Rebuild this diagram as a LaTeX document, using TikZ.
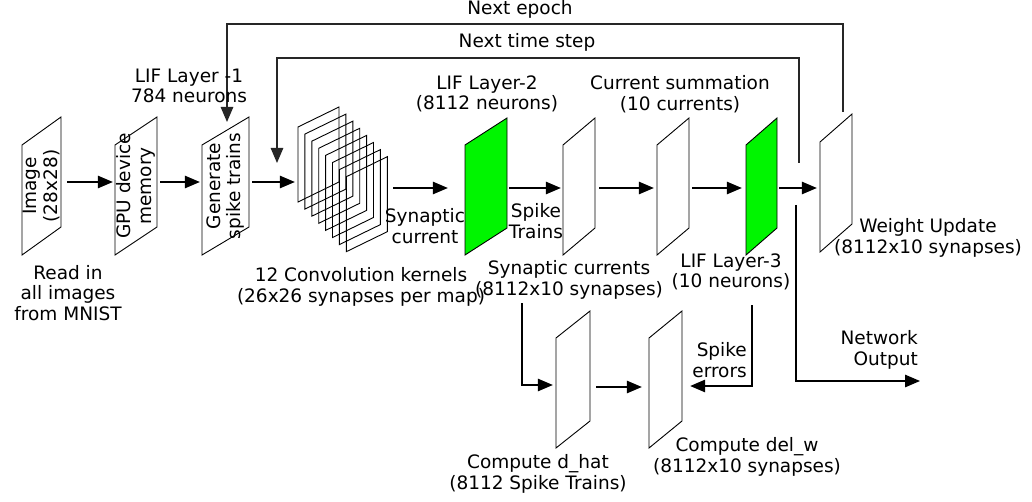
\documentclass[tikz,border=0pt]{standalone}
\usepackage{fontspec}
\setmainfont{DejaVu Sans}
\usetikzlibrary{arrows.meta,calc}

\definecolor{lifgreen}{RGB}{0,245,0}

% parallelogram slanted upwards to the right, plus an invisible named node over its extent
% #1 name, #2 left, #3 top, #4 right, #5 bottom, #6 slant, #7 extra style
\newcommand\pgrambox[7]{%
  \path[box,#7] (#2,#5) -- (#2,#3+#6) -- (#4,#3) -- (#4,#5-#6) -- cycle;
  \node[inner sep=0pt,minimum width={#4-#2},minimum height={#5-#3}] (#1) at ({(#2+#4)/2},{(#3+#5)/2}) {};
}

\begin{document}
\begin{tikzpicture}[x=1pt,y=-1pt,
  box/.style={draw=black,line width=0.9pt,line join=miter},
  lbl/.style={align=center,inner sep=0pt,font=\fontsize{18.5}{20.5}\selectfont},
  arr/.style={line width=1.3pt,-{Triangle[length=15pt,width=12.5pt]}},
  loop/.style={line width=1.3pt,draw=black!85}
]
\useasboundingbox (0,0) rectangle (1032,502);

% main pipeline
\pgrambox{img}{22}{117}{61}{255}{28}{}
\pgrambox{gpu}{115}{117}{157}{255}{28}{}
\pgrambox{gen}{202}{117}{249}{255}{28}{}

% stack of convolution kernels
\foreach \k in {0,...,7}{
  \path[box] ({298+6.9*\k},{202+7.1*\k}) -- ({298+6.9*\k},{127+7.1*\k})
    -- ({339+6.9*\k},{107+7.1*\k}) -- ({339+6.9*\k},{182+7.1*\k}) -- cycle;
}
\node[inner sep=0pt,minimum width=89pt,minimum height=146pt] (conv) at (342.5,180) {};

\pgrambox{lif2}{465}{118}{507}{255}{27}{fill=lifgreen}
\pgrambox{syn}{563}{118}{595}{255}{27}{}
\pgrambox{sum}{657}{118}{689}{255}{27}{}
\pgrambox{lif3}{746}{118}{777}{255}{27}{fill=lifgreen}
\pgrambox{wu}{820}{114}{852}{252}{28}{}

% weight update path
\pgrambox{dhat}{556}{311}{590}{448}{27}{}
\pgrambox{delw}{649}{311}{682}{448}{27}{}

% row heights of the forward arrows
\coordinate (ya) at (0,182);
\coordinate (yb) at (0,188);
\coordinate (yc) at (0,387);

\draw[arr,shorten <=6pt,shorten >=2pt] (img.east |- ya) -- (gpu.west |- ya);
\draw[arr,shorten <=3pt,shorten >=2pt] (gpu.east |- ya) -- (gen.west |- ya);
\draw[arr,shorten <=3pt,shorten >=3pt] (gen.east |- ya) -- (conv.west |- ya);
\draw[arr,shorten <=6pt,shorten >=17pt] (conv.east |- yb) -- (lif2.west |- yb);
\draw[arr,shorten <=2pt,shorten >=2pt] (lif2.east |- yb) -- (syn.west |- yb);
\draw[arr,shorten <=4pt,shorten >=3pt] (syn.east |- yb) -- (sum.west |- yb);
\draw[arr,shorten <=3pt,shorten >=4pt] (sum.east |- yb) -- (lif3.west |- yb);
\draw[arr,shorten <=2pt,shorten >=3pt] (lif3.east |- yb) -- (wu.west |- yb);
\draw[arr,shorten <=6pt,shorten >=7pt] (dhat.east |- yc) -- (delw.west |- yc);

% feedback loops
\coordinate (epS) at (843,112);
\coordinate (epTop) at (500,24);
\coordinate (epE) at (227,122);
\draw[loop,arr] (epS) |- (epTop) -| (epE);

\coordinate (tsS) at (799,163);
\coordinate (tsTop) at (500,58);
\coordinate (tsE) at (277,163);
\draw[loop,arr] (tsS) |- (tsTop) -| (tsE);

% output and error branches
\coordinate (outS) at (796,205);
\coordinate (outE) at (920,381);
\draw[arr] (outS) |- (outE);

\coordinate (scS) at (522,303);
\draw[arr,shorten >=3pt] (scS) |- (dhat.west |- 0,385);

\coordinate (seS) at (752,305);
\draw[arr,shorten >=8pt] (seS) |- (delw.east |- 0,386);

% labels
\node[lbl] (tEpoch) at (520,9) {Next epoch};
\node[lbl] (tStep) at (527,42) {Next time step};
\node[lbl] (tL1) at (189,86) {LIF Layer -1\\784 neurons};
\node[lbl] (tL2) at (487,94) {LIF Layer-2\\(8112 neurons)};
\node[lbl] (tSum) at (680,94) {Current summation\\(10 currents)};
\node[lbl,rotate=90] (tImg) at (img) {Image\\(28x28)};
\node[lbl,rotate=90] (tGpu) at (gpu) {GPU device\\memory};
\node[lbl,rotate=90] (tGen) at (gen) {Generate\\spike trains};
\node[lbl] (tRead) at (68,293) {Read in\\all images\\from MNIST};
\node[lbl] (tConv) at (361,287) {12 Convolution kernels\\(26x26 synapses per map)};
\node[lbl] (tSynC) at (425,226) {Synaptic\\current};
\node[lbl] (tSpk) at (536,221) {Spike\\Trains};
\node[lbl] (tSyn) at (569,280) {Synaptic currents\\(8112x10 synapses)};
\node[lbl] (tL3) at (731,272) {LIF Layer-3\\(10 neurons)};
\node[lbl] (tWu) at (928,238) {Weight Update\\(8112x10 synapses)};
\node[lbl,align=right,anchor=east] (tOut) at (918,350) {Network\\Output};
\node[lbl,align=right,anchor=east] (tErr) at (747,360) {Spike\\errors};
\node[lbl] (tDhat) at (538,474) {Compute d\_hat\\(8112 Spike Trains)};
\node[lbl] (tDelw) at (747,457) {Compute del\_w\\(8112x10 synapses)};
\end{tikzpicture}
\end{document}
